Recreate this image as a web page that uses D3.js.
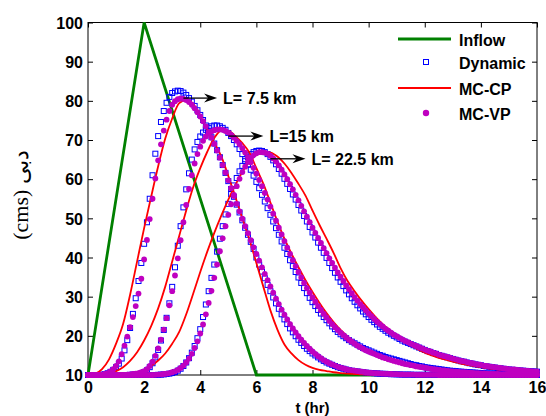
<!DOCTYPE html>
<html>
<head>
<meta charset="utf-8">
<script src="https://cdn.jsdelivr.net/npm/d3@7/dist/d3.min.js"></script>
<style>
  body { margin: 0; background: #fff; }
  text { font-family: "Liberation Sans", Arial, sans-serif; font-weight: bold; fill: #000; }
</style>
</head>
<body>
<div id="chart"></div>
<script>
// ---- data ----
var inflowTimes = [0, 2, 6, 16];
var inflow = [10, 100, 10, 10];

// markers every 0.1 hr, lines every 0.25 hr
var markerTimes = d3.range(0, 161).map(i => i / 10);
var lineTimes = d3.range(0, 65).map(i => i * 0.25);

var dynamic75 = [
  10, 10, 10, 10, 10, 10.1, 10.2, 10.45, 10.8, 11.3,
  12.0, 12.9, 14.2, 16.3, 18.9, 22.0, 25.6, 29.6, 34.0, 38.6,
  43.5, 49.0, 55.0, 61.0, 66.5, 71.0, 74.6, 77.4, 79.5, 81.0,
  82.0, 82.4, 82.6, 82.5, 82.1, 81.5, 80.7, 79.8, 78.7, 77.6,
  76.4, 75.1, 73.7, 72.2, 70.7, 69.1, 67.4, 65.6, 63.6, 61.6,
  59.5, 57.5, 55.5, 53.5, 51.5, 49.5, 47.6, 45.8, 44.0, 42.2,
  40.0, 38.2, 36.4, 34.7, 33.0, 31.4, 29.8, 28.3, 26.9, 25.5,
  24.2, 23.0, 21.9, 20.9, 19.9, 19.0, 18.2, 17.4, 16.7, 16.1,
  15.5, 15.0, 14.5, 14.0, 13.6, 13.2, 12.9, 12.6, 12.3, 12.0,
  11.8, 11.6, 11.4, 11.2, 11.1, 11.0, 10.9, 10.8, 10.7, 10.6,
  10.55, 10.5, 10.45, 10.4, 10.35, 10.3, 10.3, 10.25, 10.2, 10.2,
  10.15, 10.15, 10.1, 10.1, 10.1, 10.1, 10.05, 10.05, 10.05, 10.05,
  10.05, 10.05, 10.05, 10.05, 10.05, 10, 10, 10, 10, 10,
  10, 10, 10, 10, 10, 10, 10, 10, 10, 10,
  10, 10, 10, 10, 10, 10, 10, 10, 10, 10,
  10, 10, 10, 10, 10, 10, 10, 10, 10, 10,
  10
];
var dynamic15 = [
  10, 10, 10, 10, 10, 10, 10, 10, 10, 10,
  10, 10, 10, 10, 10, 10.05, 10.1, 10.15, 10.25, 10.4,
  10.7, 11.2, 12.0, 13.0, 14.5, 16.4, 18.8, 21.5, 24.6, 28.3,
  32.5, 37.5, 43.0, 48.0, 52.8, 57.4, 61.5, 65.0, 67.6, 69.5,
  70.9, 71.9, 72.6, 73.1, 73.5, 73.7, 73.7, 73.5, 73.1, 72.6,
  71.8, 71.0, 70.0, 68.9, 67.7, 66.4, 65.1, 63.8, 62.4, 60.9,
  59.3, 57.7, 56.0, 54.3, 52.6, 50.9, 49.2, 47.5, 45.8, 44.1,
  42.5, 40.9, 39.3, 37.8, 36.3, 34.9, 33.5, 32.2, 30.9, 29.7,
  28.6, 27.6, 26.6, 25.7, 24.8, 24.0, 23.2, 22.4, 21.7, 21.0,
  20.4, 19.9, 19.4, 18.9, 18.5, 18.1, 17.7, 17.3, 16.9, 16.6,
  16.3, 16.0, 15.7, 15.4, 15.1, 14.9, 14.6, 14.4, 14.2, 14.0,
  13.8, 13.6, 13.4, 13.2, 13.0, 12.8, 12.6, 12.5, 12.3, 12.2,
  12.0, 11.9, 11.8, 11.7, 11.6, 11.5, 11.4, 11.3, 11.2, 11.1,
  11.05, 11.0, 10.9, 10.85, 10.8, 10.75, 10.7, 10.65, 10.6, 10.55,
  10.5, 10.45, 10.4, 10.4, 10.35, 10.3, 10.3, 10.25, 10.25, 10.2,
  10.2, 10.2, 10.15, 10.15, 10.15, 10.1, 10.1, 10.1, 10.1, 10.1,
  10.1
];
var dynamic225 = [
  10, 10, 10, 10, 10, 10, 10, 10, 10, 10,
  10, 10, 10, 10, 10, 10, 10, 10, 10, 10,
  10, 10, 10, 10, 10, 10.05, 10.1, 10.15, 10.25, 10.35,
  10.5, 10.75, 11.1, 11.6, 12.3, 13.2, 14.3, 15.7, 17.4, 19.4,
  21.7, 24.8, 28.0, 31.4, 34.8, 38.2, 41.5, 44.8, 48.0, 51.0,
  53.7, 56.2, 58.4, 60.3, 62.0, 63.4, 64.6, 65.6, 66.4, 66.9,
  67.2, 67.3, 67.2, 66.9, 66.4, 65.7, 64.8, 63.8, 62.6, 61.4,
  60.1, 58.8, 57.5, 56.1, 54.8, 53.4, 52.0, 50.6, 49.2, 47.8,
  46.4, 45.1, 43.8, 42.5, 41.2, 39.9, 38.6, 37.3, 36.1, 34.9,
  33.8, 32.7, 31.6, 30.6, 29.6, 28.7, 27.8, 27.0, 26.2, 25.5,
  24.8, 24.1, 23.5, 22.9, 22.3, 21.8, 21.3, 20.8, 20.4, 20.0,
  19.6, 19.2, 18.8, 18.5, 18.2, 17.9, 17.6, 17.3, 17.0, 16.7,
  16.4, 16.1, 15.9, 15.6, 15.4, 15.1, 14.9, 14.7, 14.5, 14.3,
  14.1, 13.9, 13.7, 13.5, 13.4, 13.2, 13.0, 12.9, 12.7, 12.6,
  12.5, 12.3, 12.2, 12.1, 12.0, 11.9, 11.8, 11.7, 11.6, 11.5,
  11.4, 11.35, 11.3, 11.2, 11.15, 11.1, 11.05, 11.0, 10.95, 10.9,
  10.85
];

var mcvp75 = [
  10, 10, 10, 10, 10.05, 10.1, 10.25, 10.5, 10.9, 11.5,
  12.3, 13.5, 15.3, 17.5, 19.8, 22.2, 24.8, 27.6, 30.8, 34.6,
  39.5, 44.5, 49.8, 55.0, 60.2, 64.8, 68.9, 72.4, 75.2, 77.4,
  79.0, 79.9, 80.4, 80.6, 80.5, 80.2, 79.7, 79.0, 78.1, 77.1,
  76.0, 74.8, 73.5, 72.1, 70.6, 69.0, 67.3, 65.5, 63.6, 61.7,
  59.7, 57.7, 55.7, 53.7, 51.8, 49.9, 48.0, 46.2, 44.4, 42.6,
  40.9, 39.2, 37.5, 35.8, 34.2, 32.6, 31.0, 29.5, 28.1, 26.7,
  25.4, 24.2, 23.0, 21.9, 20.9, 19.9, 19.0, 18.2, 17.4, 16.7,
  16.0, 15.4, 14.8, 14.3, 13.8, 13.4, 13.0, 12.7, 12.4, 12.1,
  11.9, 11.7, 11.5, 11.3, 11.2, 11.1, 11.0, 10.9, 10.8, 10.7,
  10.6, 10.55, 10.5, 10.45, 10.4, 10.35, 10.3, 10.3, 10.25, 10.2,
  10.2, 10.15, 10.15, 10.1, 10.1, 10.1, 10.1, 10.05, 10.05, 10.05,
  10.05, 10.05, 10.05, 10.05, 10.05, 10, 10, 10, 10, 10,
  10, 10, 10, 10, 10, 10, 10, 10, 10, 10,
  10, 10, 10, 10, 10, 10, 10, 10, 10, 10,
  10, 10, 10, 10, 10, 10, 10, 10, 10, 10,
  10
];
var mcvp15 = [
  10, 10, 10, 10, 10, 10, 10, 10, 10, 10,
  10, 10, 10, 10.05, 10.1, 10.15, 10.25, 10.35, 10.5, 10.7,
  11.0, 11.5, 12.3, 13.4, 14.9, 16.8, 19.0, 21.6, 24.5, 27.8,
  31.4, 35.4, 39.8, 44.4, 49.0, 53.4, 57.5, 61.0, 64.0, 66.4,
  68.3, 69.8, 70.9, 71.7, 72.2, 72.5, 72.7, 72.7, 72.6, 72.3,
  71.9, 71.3, 70.6, 69.8, 68.9, 67.9, 66.8, 65.6, 64.3, 62.9,
  61.4, 59.8, 58.2, 56.5, 54.8, 53.0, 51.2, 49.4, 47.6, 45.9,
  44.2, 42.5, 40.9, 39.3, 37.8, 36.3, 34.9, 33.5, 32.2, 31.0,
  29.8, 28.7, 27.6, 26.6, 25.6, 24.7, 23.8, 23.0, 22.2, 21.5,
  20.8, 20.2, 19.6, 19.0, 18.5, 18.0, 17.5, 17.1, 16.7, 16.3,
  16.0, 15.7, 15.4, 15.1, 14.8, 14.5, 14.3, 14.0, 13.8, 13.6,
  13.4, 13.2, 13.0, 12.8, 12.7, 12.5, 12.4, 12.2, 12.1, 12.0,
  11.85, 11.75, 11.6, 11.5, 11.4, 11.3, 11.2, 11.15, 11.05, 11.0,
  10.9, 10.85, 10.8, 10.75, 10.7, 10.65, 10.6, 10.55, 10.5, 10.45,
  10.4, 10.4, 10.35, 10.3, 10.3, 10.25, 10.25, 10.2, 10.2, 10.2,
  10.15, 10.15, 10.15, 10.1, 10.1, 10.1, 10.1, 10.1, 10.05, 10.05,
  10.05
];
var mcvp225 = [
  10, 10, 10, 10, 10, 10, 10, 10, 10, 10,
  10, 10, 10, 10, 10, 10, 10, 10, 10, 10,
  10, 10, 10, 10, 10.05, 10.1, 10.15, 10.25, 10.35, 10.5,
  10.7, 10.95, 11.3, 11.8, 12.4, 13.2, 14.2, 15.4, 16.9, 18.6,
  20.6, 22.9, 25.5, 28.4, 31.5, 34.8, 38.2, 41.6, 44.9, 48.0,
  50.9, 53.6, 56.0, 58.2, 60.1, 61.8, 63.2, 64.4, 65.4, 66.1,
  66.6, 66.9, 66.9, 66.8, 66.5, 66.0, 65.3, 64.5, 63.5, 62.4,
  61.2, 60.0, 58.7, 57.4, 56.0, 54.6, 53.2, 51.8, 50.4, 49.0,
  47.6, 46.3, 45.0, 43.7, 42.4, 41.1, 39.8, 38.6, 37.4, 36.2,
  35.1, 34.0, 32.9, 31.9, 30.9, 29.9, 29.0, 28.1, 27.3, 26.5,
  25.7, 25.0, 24.3, 23.6, 23.0, 22.4, 21.8, 21.3, 20.8, 20.3,
  19.9, 19.5, 19.1, 18.7, 18.4, 18.0, 17.7, 17.4, 17.1, 16.8,
  16.5, 16.2, 16.0, 15.7, 15.5, 15.2, 15.0, 14.8, 14.6, 14.4,
  14.2, 14.0, 13.8, 13.6, 13.5, 13.3, 13.1, 13.0, 12.8, 12.7,
  12.6, 12.4, 12.3, 12.2, 12.1, 12.0, 11.9, 11.8, 11.7, 11.6,
  11.5, 11.45, 11.4, 11.3, 11.25, 11.2, 11.1, 11.05, 11.0, 10.95,
  10.9
];

var mccp75 = [
  10, 10.3, 11.5, 14.0,  18.0, 23.0, 30.5, 39.0,  47.5, 55.5, 63.3, 70.3,
  75.5, 79.4, 80.2, 79.2,  76.0, 72.8, 69.3, 65.8,  60.8, 55.5, 50.0, 44.6,
  38.6, 32.5, 26.5, 21.6,  17.8, 15.5, 13.8, 12.6,  11.8, 11.3, 11.0, 10.7,
  10.5, 10.35, 10.25, 10.15,  10.1, 10.05, 10.05, 10,
  10, 10, 10, 10,  10, 10, 10, 10,  10, 10, 10, 10,  10, 10, 10, 10,  10, 10, 10, 10,
  10
];
var mccp15 = [
  10, 10, 10.1, 10.4,  11.0, 12.0, 13.6, 15.8,  18.8, 22.5, 27.0, 32.5,
  39.0, 45.5, 52.0, 58.0,  62.8, 67.0, 70.5, 72.4,  72.3, 71.0, 69.2, 66.8,
  62.8, 58.8, 54.0, 49.2,  44.8, 41.0, 37.5, 34.2,  31.2, 28.4, 25.8, 23.5,
  21.5, 19.8, 18.4, 17.2,  16.2, 15.3, 14.5, 13.9,  13.4, 12.9, 12.5, 12.1,
  11.8, 11.5, 11.2, 11.0,  10.8, 10.65, 10.5, 10.4,  10.3, 10.25, 10.2, 10.15,
  10.1, 10.1, 10.05, 10.05,  10
];
var mccp225 = [
  10, 10, 10, 10,  10.05, 10.15, 10.35, 10.7,  11.3, 12.3, 13.7, 15.5,
  18.0, 21.0, 25.5, 30.8,  36.3, 41.5, 46.3, 50.7,  54.8, 58.5, 61.8, 64.5,
  66.2, 66.9, 66.8, 65.8,  64.0, 61.6, 58.8, 55.8,  52.0, 48.3, 44.8, 41.2,
  37.3, 34.0, 31.4, 29.0,  26.8, 24.8, 23.0, 21.5,  20.0, 18.7, 17.6, 16.6,
  15.7, 15.0, 14.4, 13.9,  13.4, 13.0, 12.6, 12.3,  12.0, 11.7, 11.5, 11.3,
  11.1, 11.0, 10.9, 10.8,  10.7
];

var xTicks = [0, 2, 4, 6, 8, 10, 12, 14, 16];
var yTicks = [10, 20, 30, 40, 50, 60, 70, 80, 90, 100];
var legendNames = ["Inflow", "Dynamic", "MC-CP", "MC-VP"];
var reachLabels = ["L= 7.5 km", "L=15 km", "L= 22.5 km"];

// ---- layout ----
var svgWidth = 546, svgHeight = 416;
var margin = { top: 22.5, right: 9, bottom: 41, left: 88 };
var width = svgWidth - margin.left - margin.right;
var height = svgHeight - margin.top - margin.bottom;

var svg = d3.select("#chart").append("svg")
  .attr("width", svgWidth)
  .attr("height", svgHeight);

var g = svg.append("g")
  .attr("transform", `translate(${margin.left}, ${margin.top})`);

var x = d3.scaleLinear().domain([0, 16]).range([0, width]);
var y = d3.scaleLinear().domain([10, 100]).range([height, 0]);

// axes, ticks pointing inward like the original
g.append("g")
  .attr("transform", `translate(0, ${height})`)
  .call(d3.axisBottom(x).tickValues(xTicks).tickSizeInner(-5).tickSizeOuter(0).tickPadding(7))
  .call(a => a.select(".domain").remove())
  .call(a => a.selectAll("text").style("font-size", "16px"));

g.append("g")
  .call(d3.axisLeft(y).tickValues(yTicks).tickSizeInner(-5).tickSizeOuter(0).tickPadding(5))
  .call(a => a.select(".domain").remove())
  .call(a => a.selectAll("text").style("font-size", "16px").attr("dy", "0.36em"));

g.append("g")
  .call(d3.axisTop(x).tickValues(xTicks).tickSizeInner(-5).tickSizeOuter(0).tickFormat(""))
  .call(a => a.select(".domain").remove());

g.append("g")
  .attr("transform", `translate(${width}, 0)`)
  .call(d3.axisRight(y).tickValues(yTicks).tickSizeInner(-5).tickSizeOuter(0).tickFormat(""))
  .call(a => a.select(".domain").remove());

g.append("rect")
  .attr("width", width).attr("height", height)
  .attr("fill", "none").attr("stroke", "#000").attr("stroke-width", 1);

// axis titles
svg.append("text")
  .attr("x", margin.left + width / 2)
  .attr("y", 413)
  .attr("text-anchor", "middle")
  .style("font-size", "15px")
  .text("t (hr)");

svg.append("text")
  .attr("transform", "translate(28, 195) rotate(-90)")
  .attr("text-anchor", "middle")
  .style("font-family", "'Liberation Serif', 'Times New Roman', serif")
  .style("font-weight", "normal")
  .style("font-size", "22px")
  .text("(cms) دبی");

// ---- series ----
function pairs(times, vals) {
  return vals.map((v, i) => ({ t: times[i], q: v }));
}

var line = d3.line()
  .x(d => x(d.t))
  .y(d => y(d.q));

var smoothLine = d3.line()
  .x(d => x(d.t))
  .y(d => y(d.q))
  .curve(d3.curveMonotoneX);

g.append("path")
  .datum(pairs(inflowTimes, inflow))
  .attr("d", line)
  .attr("fill", "none")
  .attr("stroke", "#008000")
  .attr("stroke-width", 2.8);

[dynamic75, dynamic15, dynamic225].forEach(function(s) {
  g.append("g").selectAll("rect")
    .data(pairs(markerTimes, s))
    .enter().append("rect")
    .attr("x", d => x(d.t) - 2.5)
    .attr("y", d => y(d.q) - 2.5)
    .attr("width", 5).attr("height", 5)
    .attr("fill", "none")
    .attr("stroke", "#0000ff")
    .attr("stroke-width", 1);
});

[mccp75, mccp15, mccp225].forEach(function(s) {
  g.append("path")
    .datum(pairs(lineTimes, s))
    .attr("d", smoothLine)
    .attr("fill", "none")
    .attr("stroke", "#ff0000")
    .attr("stroke-width", 1.8);
});

[mcvp75, mcvp15, mcvp225].forEach(function(s) {
  g.append("g").selectAll("circle")
    .data(pairs(markerTimes, s))
    .enter().append("circle")
    .attr("cx", d => x(d.t))
    .attr("cy", d => y(d.q))
    .attr("r", 2.9)
    .attr("fill", "#bf00c0");
});

// ---- reach annotations with arrows ----
var arrowSpots = [
  { t0: 3.4, t1: 4.6, q: 80.7 },
  { t0: 5.0, t1: 6.25, q: 71.0 },
  { t0: 6.5, t1: 7.75, q: 65.2 }
];
arrowSpots.forEach(function(a, i) {
  var x0 = x(a.t0), x1 = x(a.t1), yy = y(a.q);
  g.append("line")
    .attr("x1", x0).attr("x2", x1 - 6)
    .attr("y1", yy).attr("y2", yy)
    .attr("stroke", "#000").attr("stroke-width", 1.3);
  g.append("path")
    .attr("d", `M${x1},${yy} L${x1 - 13},${yy - 4.5} L${x1 - 9},${yy} L${x1 - 13},${yy + 4.5} Z`)
    .attr("fill", "#000");
  g.append("text")
    .attr("x", x1 + 6)
    .attr("y", yy + 6)
    .style("font-size", "16px")
    .text(reachLabels[i]);
});

// ---- legend ----
var legend = svg.append("g").attr("transform", "translate(398, 0)");
var rowY = [39, 62, 88, 113];

legend.append("line")
  .attr("x1", 0).attr("x2", 53).attr("y1", rowY[0]).attr("y2", rowY[0])
  .attr("stroke", "#008000").attr("stroke-width", 2.8);
legend.append("rect")
  .attr("x", 28 - 2.5).attr("y", rowY[1] - 2.5).attr("width", 5).attr("height", 5)
  .attr("fill", "none").attr("stroke", "#0000ff").attr("stroke-width", 1);
legend.append("line")
  .attr("x1", 0).attr("x2", 53).attr("y1", rowY[2]).attr("y2", rowY[2])
  .attr("stroke", "#ff0000").attr("stroke-width", 1.8);
legend.append("circle")
  .attr("cx", 28).attr("cy", rowY[3]).attr("r", 3.2)
  .attr("fill", "#bf00c0");

legend.selectAll("text.name")
  .data(legendNames)
  .enter().append("text")
  .attr("class", "name")
  .attr("x", 61)
  .attr("y", (d, i) => rowY[i] + 7)
  .style("font-size", "16px")
  .text(d => d);
</script>
</body>
</html>
